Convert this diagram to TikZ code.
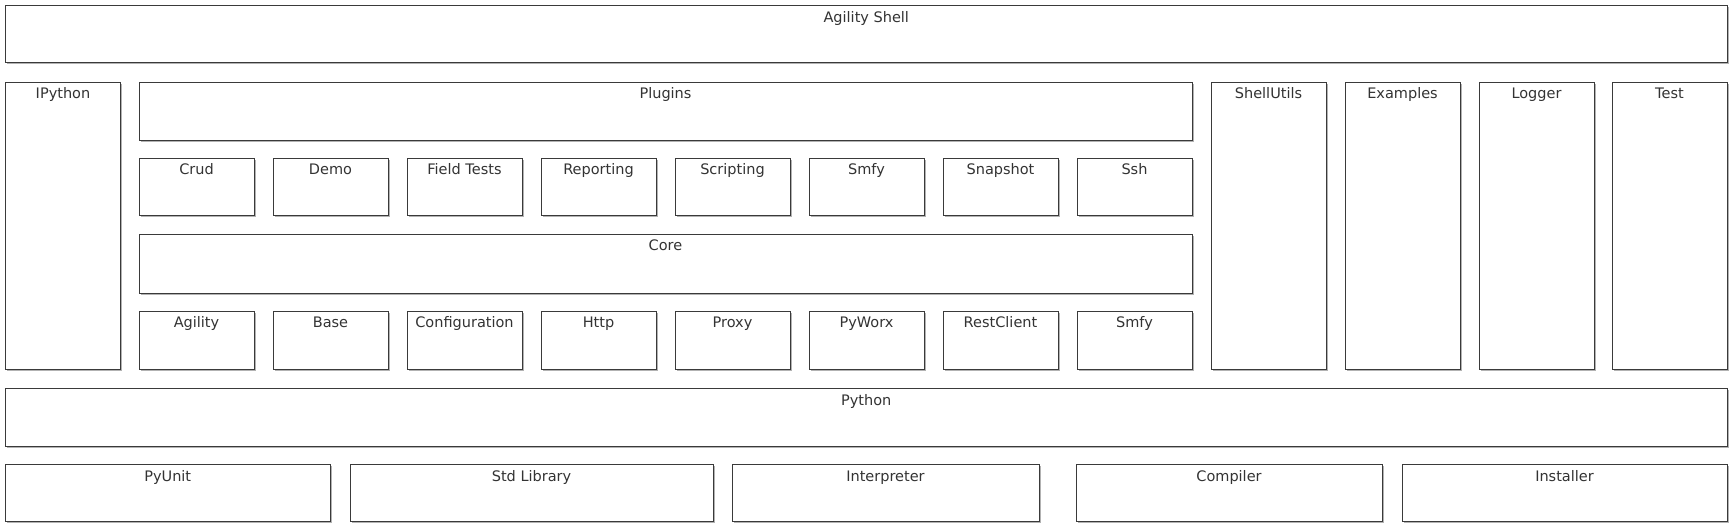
\documentclass[tikz,border=0pt]{standalone}
\usepackage{fontspec}
\setmainfont{DejaVu Sans}
\usetikzlibrary{shadows}
\definecolor{edge}{HTML}{3A3A3A}
\definecolor{txt}{HTML}{333333}
\tikzset{
  box/.style={draw=edge, line width=0.9pt, fill=white, rectangle, inner sep=0pt, outer sep=0pt,
    drop shadow={shadow xshift=1.8pt, shadow yshift=-1.8pt, fill=black!30, opacity=1}},
  lbl/.style={anchor=base, inner sep=0pt, text=txt, font=\fontsize{14.5}{16}\selectfont}
}
\newcommand\blk[6]{%
  \node[box, minimum width={#4-#2}, minimum height={#5-#3}] (#1) at ({(#2+#4)/2},{-(#3+#5)/2}) {};
  \node[lbl] (#1-t) at ([yshift=-17pt]#1.north) {#6};
}
\begin{document}
\begin{tikzpicture}[x=1pt,y=1pt]
\useasboundingbox (0,0) rectangle (1731,-526);
\blk{shell}{5.5}{5.5}{1727}{62.5}{Agility Shell}
\blk{ipy}{5.5}{82}{120.5}{369}{IPython}
\blk{plugins}{139}{82}{1192}{140}{Plugins}
\blk{crud}{139}{158}{254}{215}{Crud}
\blk{demo}{273}{158}{388}{215}{Demo}
\blk{field}{407}{158}{522}{215}{Field Tests}
\blk{report}{541}{158}{656}{215}{Reporting}
\blk{script}{675}{158}{790}{215}{Scripting}
\blk{smfya}{809}{158}{924}{215}{Smfy}
\blk{snap}{943}{158}{1058}{215}{Snapshot}
\blk{ssh}{1077}{158}{1192}{215}{Ssh}
\blk{core}{139}{234}{1192}{293}{Core}
\blk{agility}{139}{311}{254}{369}{Agility}
\blk{base}{273}{311}{388}{369}{Base}
\blk{config}{407}{311}{522}{369}{Configuration}
\blk{http}{541}{311}{656}{369}{Http}
\blk{proxy}{675}{311}{790}{369}{Proxy}
\blk{pyworx}{809}{311}{924}{369}{PyWorx}
\blk{rest}{943}{311}{1058}{369}{RestClient}
\blk{smfyb}{1077}{311}{1192}{369}{Smfy}
\blk{shellutils}{1211}{82}{1326}{369}{ShellUtils}
\blk{examples}{1345}{82}{1460}{369}{Examples}
\blk{logger}{1479}{82}{1594}{369}{Logger}
\blk{test}{1612}{82}{1727}{369}{Test}
\blk{python}{5.5}{388}{1727}{446}{Python}
\blk{pyunit}{5.5}{464}{330}{521}{PyUnit}
\blk{stdlib}{350}{464}{713}{521}{Std Library}
\blk{interp}{732}{464}{1039}{521}{Interpreter}
\blk{compiler}{1076}{464}{1382}{521}{Compiler}
\blk{installer}{1402}{464}{1727}{521}{Installer}
\end{tikzpicture}
\end{document}
